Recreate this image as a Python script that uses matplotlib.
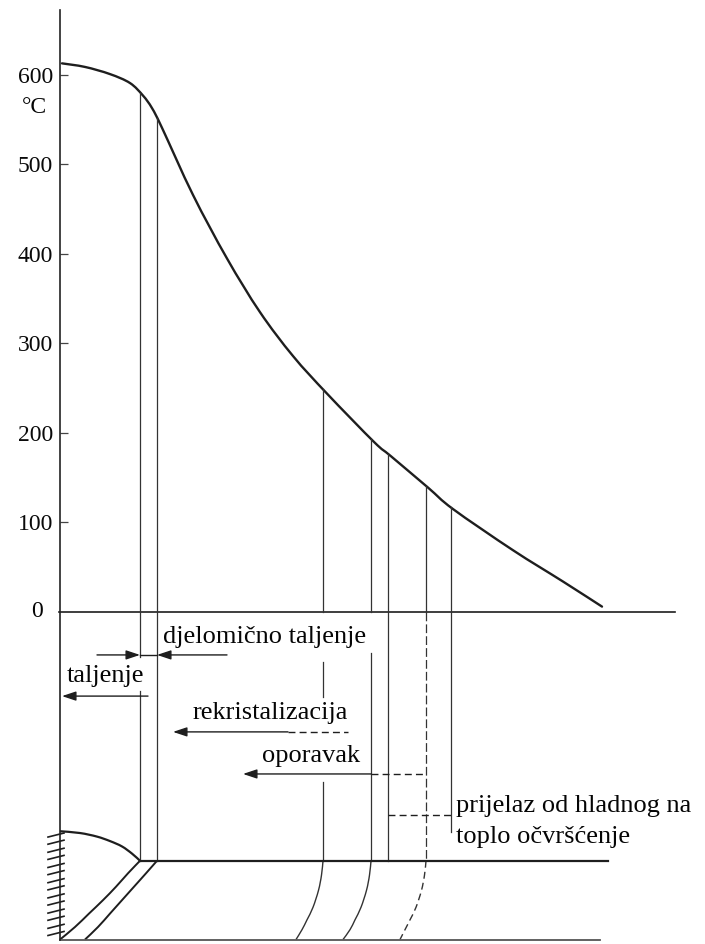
import numpy as np
import matplotlib
matplotlib.use("Agg")
import matplotlib.pyplot as plt
from matplotlib.path import Path
from matplotlib.patches import PathPatch

plt.rcParams['font.family'] = ['Liberation Serif', 'DejaVu Serif']

# ---- data (distance from weld axis in arbitrary units, temperature in °C) ----
curve_d = [2, 25, 50, 70, 83, 92, 102, 133, 167, 200, 233, 267,
           314, 331, 368, 393, 453, 503, 542]
curve_T = [613, 609, 601, 591, 577, 563, 541, 466, 395, 335,
           286, 244, 190, 174, 139, 115, 69, 34, 6]

tick_values = [100, 200, 300, 400, 500, 600]
tick_labels = ['100', '200', '300', '400', '500', '600']

# zone boundaries (distance)
boundary_d = [80, 97, 263, 311, 328, 366, 391]

weld_T = -278      # weld surface level in the sketch
bottom_T = -366    # plate bottom level
axis_top_T = 673

zone_labels = ['djelomično taljenje', 'taljenje', 'rekristalizacija', 'oporavak',
               'prijelaz od hladnog na', 'toplo očvršćenje']

# weld bead sketch
cap_d = [0, 20, 37, 50, 62, 72, 80]
cap_T = [-245, -247, -251, -256, -262, -270, -278]
fusion1_d = [80, 68, 56, 43, 29, 15, 0]
fusion1_T = [-278, -292, -307, -322, -337, -352, -366]
fusion2_d = [97, 86, 74, 62, 50, 38, 25]
fusion2_T = [-278, -292, -307, -322, -337, -352, -366]
haz_T = [-278, -294, -311, -330, -344, -355, -366]
haz3_d = [263, 261.5, 258.5, 253, 247, 242, 236]
haz4_d = [311, 309.5, 306.5, 301, 295, 290, 283]
haz6_d = [366, 364.5, 361.5, 356, 350, 345, 340]
hatch_T = [-249, -257, -266, -274, -283, -291, -300, -308, -317, -325, -334,
           -342, -351, -359]

# ---- figure ----
fig = plt.figure(figsize=(7.05, 9.44), dpi=100)
ax = fig.add_axes([0, 0, 1, 1])
ax.set_xlim(-60, 645)
ax.set_ylim(-371, 683.8)

for s in ['top', 'right', 'bottom']:
    ax.spines[s].set_visible(False)
ax.spines['left'].set_position(('data', 0))
ax.spines['left'].set_bounds(bottom_T, axis_top_T)
ax.spines['left'].set_linewidth(1.2)
ax.spines['left'].set_color('#222222')
ax.set_xticks([])
ax.set_yticks(tick_values)
ax.set_yticklabels(tick_labels)
ax.tick_params(axis='y', direction='in', length=6, width=0.9, color='#444444',
               pad=5, labelsize=17, labelcolor='#0a0a0a')
ax.patch.set_alpha(0)

dark = '#1e1e1e'
thin = '#333333'
txt = '#050505'


def smooth_path(xs, ys):
    """Bezier path passing through the given points (Catmull-Rom tangents)."""
    p = np.column_stack([xs, ys]).astype(float)
    verts = [p[0]]
    codes = [Path.MOVETO]
    n = len(p)
    for i in range(n - 1):
        p0 = p[i - 1] if i > 0 else p[i]
        p1, p2 = p[i], p[i + 1]
        p3 = p[i + 2] if i + 2 < n else p[i + 1]
        c1 = p1 + (p2 - p0) / 6.0
        c2 = p2 - (p3 - p1) / 6.0
        verts += [c1, c2, p2]
        codes += [Path.CURVE4] * 3
    return Path(verts, codes)


def draw_smooth(xs, ys, **kw):
    ax.add_patch(PathPatch(smooth_path(xs, ys), fill=False, **kw))


# temperature curve
draw_smooth(curve_d, curve_T, edgecolor=dark, lw=1.7, capstyle='round')

# zero line
ax.plot([-1, 615], [0, 0], color=dark, lw=1.2)
ax.text(-17, 0, '0', ha='right', va='center', fontsize=17, color=txt)
ax.text(-38, 557.5, '°C', ha='left', va='baseline', fontsize=17, color=txt)

# boundary vertical lines
top = np.interp(boundary_d, curve_d, curve_T)
lw_v = 0.9
segs = [
    [(top[0], -50), (-88, weld_T)],
    [(top[1], weld_T)],
    [(top[2], 0), (-56, -95), (-190, weld_T)],
    [(top[3], 0), (-46, weld_T)],
    [(top[4], weld_T)],
    [(top[5], 0)],
    [(top[6], -246)],
]
for d, sl in zip(boundary_d, segs):
    for (y0, y1) in sl:
        ax.plot([d, d], [y0, y1], color=thin, lw=lw_v)
# dashed continuation of boundary 6
ax.plot([boundary_d[5], boundary_d[5]], [0, weld_T], color=thin, lw=lw_v,
        dashes=(7, 2.5))


def arrow(x_tip, x_tail, y):
    ax.annotate('', xy=(x_tip, y), xytext=(x_tail, y),
                arrowprops=dict(arrowstyle='-|>,head_length=0.6,head_width=0.2',
                                color=dark, lw=1.0, shrinkA=0, shrinkB=0,
                                mutation_scale=14))


fs = 19
# djelomično taljenje
arrow(boundary_d[0], 37, -48)
arrow(boundary_d[1], 167, -48)
ax.plot([boundary_d[0], boundary_d[1]], [-48, -48], color=dark, lw=1.0)
ax.text(103, -34.6, zone_labels[0], fontsize=fs, color=txt, va='baseline')
# taljenje
arrow(2, 88, -94)
ax.text(7, -78.2, zone_labels[1], fontsize=fs, color=txt, va='baseline')
# rekristalizacija
arrow(113, 228, -134)
ax.plot([228, 288], [-134, -134], color=dark, lw=1.0, dashes=(5, 3))
ax.text(133, -119.6, zone_labels[2], fontsize=fs, color=txt, va='baseline')
# oporavak
arrow(183, boundary_d[3], -181)
ax.plot([boundary_d[3], boundary_d[5]], [-181, -181], color=dark, lw=1.0,
        dashes=(5, 3))
ax.text(202, -167.6, zone_labels[3], fontsize=fs, color=txt, va='baseline')
# prijelaz
ax.plot([boundary_d[4], boundary_d[6]], [-226.8, -226.8], color=dark, lw=1.0,
        dashes=(5, 3))
ax.text(396, -223.5, zone_labels[4], fontsize=fs, color=txt, va='baseline')
ax.text(396, -258.1, zone_labels[5], fontsize=fs, color=txt, va='baseline')

# weld sketch
ax.plot([boundary_d[0], 548], [weld_T, weld_T], color=dark, lw=1.6)
ax.plot([0, 540], [bottom_T, bottom_T], color='#555555', lw=1.3)
draw_smooth(cap_d, cap_T, edgecolor=dark, lw=1.6)
draw_smooth(fusion1_d, fusion1_T, edgecolor=dark, lw=1.4)
draw_smooth(fusion2_d, fusion2_T, edgecolor=dark, lw=1.4)
draw_smooth(haz3_d, haz_T, edgecolor=thin, lw=1.0)
draw_smooth(haz4_d, haz_T, edgecolor=thin, lw=1.0)
draw_smooth(haz6_d, haz_T, edgecolor=thin, lw=1.0, linestyle=(0, (5, 3)))
for t in hatch_T:
    ax.plot([-12, 4], [t - 2.5, t + 2.0], color=dark, lw=1.2, clip_on=False)

fig.savefig('out.png', dpi=100, facecolor='white')
